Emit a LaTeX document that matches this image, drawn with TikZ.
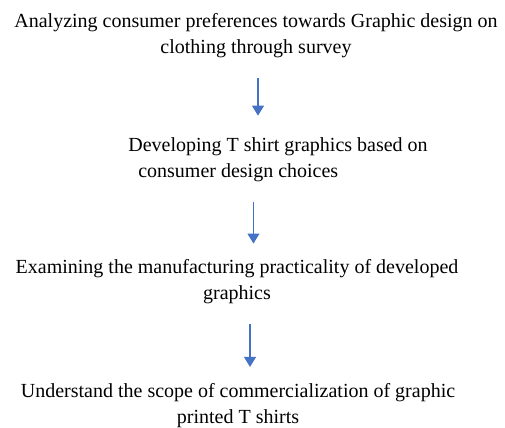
\documentclass[tikz,border=0pt]{standalone}
\usepackage{fontspec}
\setmainfont{Liberation Serif}
\usepackage{xcolor}
\usepackage{tikz}
\usetikzlibrary{arrows.meta, positioning}
\definecolor{arrowblue}{HTML}{4472C4}
\tikzstyle{stepnode} = [text centered, align=center, inner sep=0pt, font=\fontsize{15pt}{19.5pt}\selectfont]
\tikzstyle{arrow} = [line width=0.8pt, draw=arrowblue, -{Triangle[length=7.5pt,width=9pt]}, shorten <=15pt, shorten >=12pt]

\begin{document}
\begin{tikzpicture}[on grid]

    \useasboundingbox (0,0) rectangle (378.75pt,-320.25pt);

    \node (survey) [stepnode] at (192pt,-26.5pt) {Analyzing consumer preferences towards Graphic design on\\clothing through survey};
    \node (develop) [stepnode, align=left, below=93pt of survey, xshift=16.5pt] {Developing T shirt graphics based on\\\hspace*{7.5pt}consumer design choices};
    \node (examine) [stepnode, below=92pt of develop, xshift=-30.75pt] {Examining the manufacturing practicality of developed\\graphics};
    \node (scope) [stepnode, below=92.5pt of examine, xshift=0.75pt] {Understand the scope of commercialization of graphic\\printed T shirts};

    \draw [arrow, shorten >=16pt] ([xshift=1.5pt]survey.south) -- ([xshift=1.5pt]survey.south |- develop.north);
    \draw [arrow] ([xshift=-18.4pt]develop.south) -- ([xshift=-18.4pt]develop.south |- examine.north);
    \draw [arrow] ([xshift=9.75pt]examine.south) -- ([xshift=9.75pt]examine.south |- scope.north);

\end{tikzpicture}
\end{document}
